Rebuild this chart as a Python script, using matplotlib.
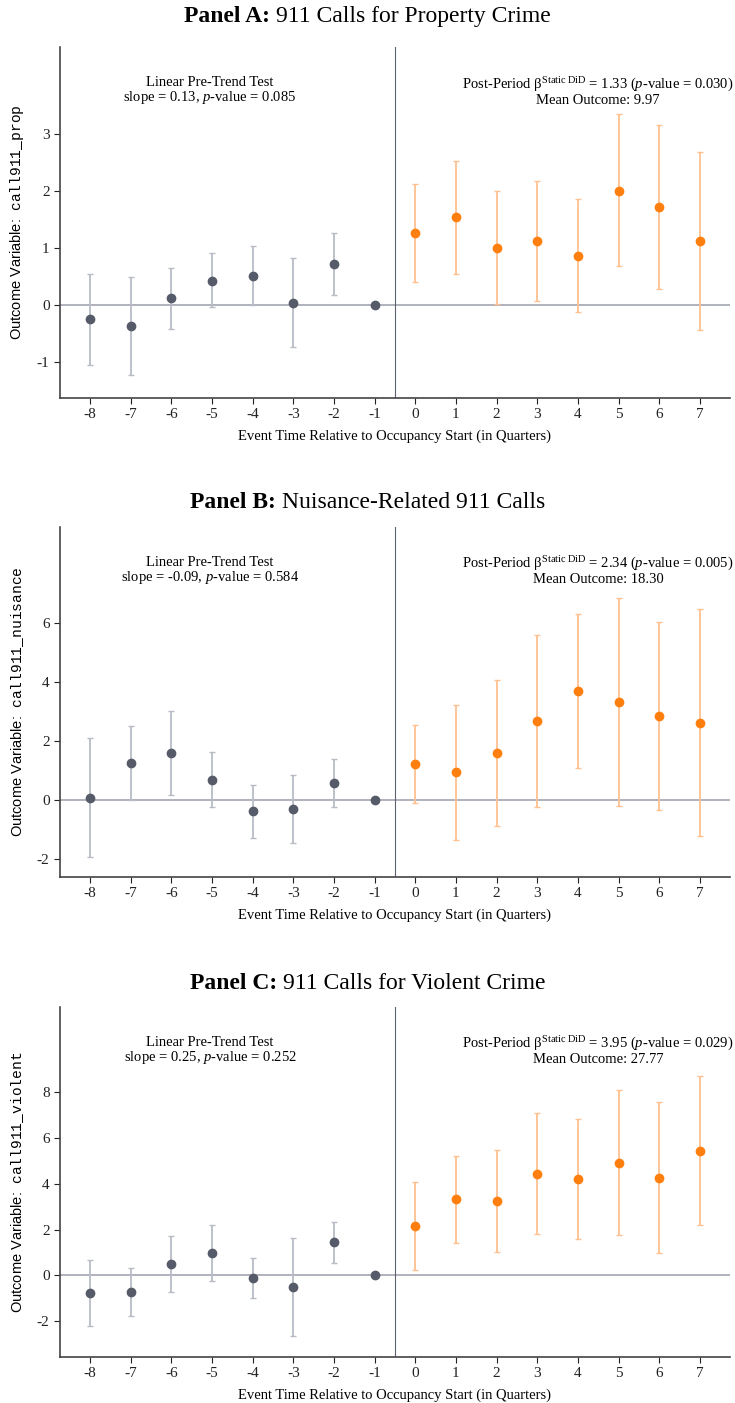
import numpy as np
import matplotlib
matplotlib.use("Agg")
import matplotlib.pyplot as plt

plt.rcParams["font.family"] = ["Liberation Serif", "DejaVu Serif"]
plt.rcParams["mathtext.fontset"] = "custom"
plt.rcParams["mathtext.rm"] = "Liberation Serif"
plt.rcParams["mathtext.it"] = "Liberation Serif:italic"
plt.rcParams["mathtext.bf"] = "Liberation Serif:bold"
plt.rcParams["mathtext.tt"] = "Liberation Mono"
plt.rcParams["axes.unicode_minus"] = False

# event time
event_time = [-8, -7, -6, -5, -4, -3, -2, -1, 0, 1, 2, 3, 4, 5, 6, 7]

# Panel A: property crime
prop_coef = [-0.25, -0.37, 0.12, 0.43, 0.52, 0.04, 0.72, 0.0,
             1.26, 1.54, 1.01, 1.12, 0.87, 2.01, 1.72, 1.12]
prop_lo = [-1.05, -1.22, -0.41, -0.04, 0.01, -0.74, 0.18, 0.0,
           0.40, 0.55, 0.02, 0.07, -0.12, 0.68, 0.28, -0.44]
prop_hi = [0.54, 0.49, 0.65, 0.91, 1.04, 0.83, 1.26, 0.0,
           2.13, 2.53, 2.01, 2.17, 1.87, 3.35, 3.16, 2.68]

# Panel B: nuisance
nuis_coef = [0.08, 1.27, 1.59, 0.70, -0.37, -0.29, 0.59, 0.0,
             1.24, 0.94, 1.59, 2.69, 3.69, 3.32, 2.85, 2.63]
nuis_lo = [-1.93, 0.02, 0.19, -0.23, -1.28, -1.44, -0.23, 0.0,
           -0.08, -1.34, -0.87, -0.24, 1.10, -0.21, -0.33, -1.22]
nuis_hi = [2.09, 2.52, 3.02, 1.64, 0.53, 0.87, 1.40, 0.0,
           2.56, 3.23, 4.07, 5.60, 6.31, 6.86, 6.02, 6.47]

# Panel C: violent crime
viol_coef = [-0.78, -0.72, 0.48, 1.00, -0.10, -0.49, 1.45, 0.0,
             2.17, 3.32, 3.25, 4.43, 4.22, 4.91, 4.26, 5.42]
viol_lo = [-2.22, -1.75, -0.74, -0.22, -0.97, -2.64, 0.55, 0.0,
           0.25, 1.43, 1.04, 1.81, 1.61, 1.75, 0.96, 2.19]
viol_hi = [0.67, 0.32, 1.71, 2.22, 0.78, 1.65, 2.35, 0.0,
           4.09, 5.22, 5.46, 7.06, 6.83, 8.09, 7.57, 8.67]

titles = ["Panel A:", "Panel B:", "Panel C:"]
subtitles = ["911 Calls for Property Crime", "Nuisance-Related 911 Calls",
             "911 Calls for Violent Crime"]
outcomes = ["call911\\_prop", "call911\\_nuisance", "call911\\_violent"]
slopes = ["0.13", "-0.09", "0.25"]
slope_p = ["0.085", "0.584", "0.252"]
betas = ["1.33", "2.34", "3.95"]
beta_p = ["0.030", "0.005", "0.029"]
means = ["9.97", "18.30", "27.77"]
yticks = [[-1, 0, 1, 2, 3], [-2, 0, 2, 4, 6], [-2, 0, 2, 4, 6, 8]]
ylims = [(-1.63, 4.53), (-2.6, 9.25), (-3.55, 11.7)]

coefs = [prop_coef, nuis_coef, viol_coef]
los = [prop_lo, nuis_lo, viol_lo]
his = [prop_hi, nuis_hi, viol_hi]

pre_dot = "#555b68"
pre_err = "#b8bcc5"
post_dot = "#ff7f0e"
post_err = "#ffc08f"

fig = plt.figure(figsize=(7.35, 14.03), dpi=100)
renderer = fig.canvas.get_renderer()

axes_pos = [[0.0816, 0.7163, 0.9116, 0.2502],
            [0.0816, 0.3749, 0.9116, 0.2495],
            [0.0816, 0.0328, 0.9116, 0.2495]]
title_y = [0.988, 0.642, 0.299]

t = np.array(event_time)
for i in range(3):
    ax = fig.add_axes(axes_pos[i])
    c = np.array(coefs[i])
    lo = np.array(los[i])
    hi = np.array(his[i])
    pre = t < 0
    post = t >= 0

    ax.axhline(0, color="#a9adb5", lw=1.3, zorder=1)
    ax.axvline(-0.5, color="#5c6270", lw=0.8, zorder=1)

    ax.errorbar(t[pre], c[pre], yerr=[c[pre] - lo[pre], hi[pre] - c[pre]],
                fmt="none", ecolor=pre_err, elinewidth=1.3, capsize=2.5,
                capthick=1.0, zorder=2)
    ax.plot(t[pre], c[pre], "o", color=pre_dot, ms=6, zorder=3)
    ax.errorbar(t[post], c[post], yerr=[c[post] - lo[post], hi[post] - c[post]],
                fmt="none", ecolor=post_err, elinewidth=1.3, capsize=2.5,
                capthick=1.0, zorder=2)
    ax.plot(t[post], c[post], "o", color=post_dot, ms=6, zorder=3)

    ax.set_xlim(-8.74, 7.74)
    ax.set_ylim(*ylims[i])
    ax.set_xticks(event_time)
    ax.set_yticks(yticks[i])
    ax.tick_params(labelsize=11, colors="#222222", length=4, width=0.8)
    for s in ["top", "right"]:
        ax.spines[s].set_visible(False)
    for s in ["left", "bottom"]:
        ax.spines[s].set_color("#444444")
        ax.spines[s].set_linewidth(1.2)

    ax.set_xlabel("Event Time Relative to Occupancy Start (in Quarters)",
                  fontsize=10.5, labelpad=6)
    ax.set_ylabel("Outcome Variable:  $\\mathtt{" + outcomes[i] + "}$",
                  fontsize=10.5, family=["Liberation Sans", "DejaVu Sans"],
                  labelpad=8)

    ax.text(0.224, 0.875, "Linear Pre-Trend Test\nslope = " + slopes[i]
            + ", $p$-value = " + slope_p[i],
            transform=ax.transAxes, ha="center", va="center", fontsize=10.5,
            linespacing=1.0)
    ax.text(0.803, 0.875, "Post-Period \u03b2$^{\\mathrm{Static\\ DiD}}$ = "
            + betas[i] + " ($p$-value = " + beta_p[i] + ")\nMean Outcome: "
            + means[i],
            transform=ax.transAxes, ha="center", va="center", fontsize=10.5,
            linespacing=1.0)

    # title: bold head + regular rest, centred together
    t1 = fig.text(0, title_y[i], titles[i] + " ", fontweight="bold",
                  ha="left", va="center", fontsize=17)
    t2 = fig.text(0, title_y[i], subtitles[i], ha="left", va="center",
                  fontsize=17)
    w1 = t1.get_window_extent(renderer).width / fig.bbox.width
    w2 = t2.get_window_extent(renderer).width / fig.bbox.width
    x0 = 0.5 - (w1 + w2) / 2
    t1.set_x(x0)
    t2.set_x(x0 + w1)

fig.savefig("out.png", dpi=100)
